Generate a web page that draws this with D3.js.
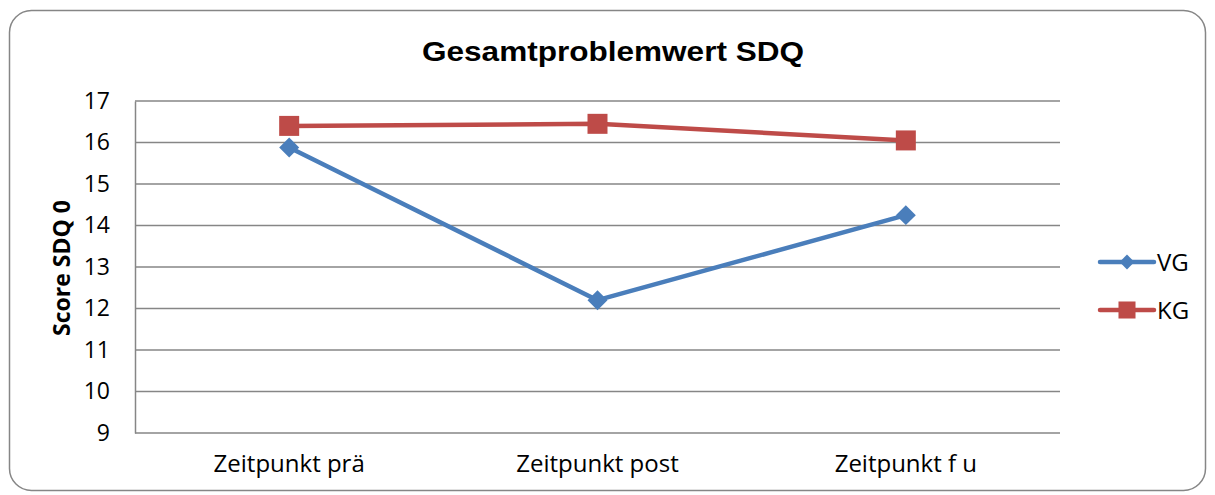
<!DOCTYPE html>
<html>
<head>
<meta charset="utf-8">
<script src="https://cdn.jsdelivr.net/npm/d3@7"></script>
<style>
  body { margin: 0; background: #fff; }
  text { font-family: "Open Sans", Lato, sans-serif; fill: #000; }
</style>
</head>
<body>
<div id="chart"></div>
<script>
// values
var categories = ["Zeitpunkt prä", "Zeitpunkt post", "Zeitpunkt f u"];
var vgValues = [15.88, 12.2, 14.25];
var kgValues = [16.4, 16.45, 16.05];
var seriesNames = ["VG", "KG"];
var yTicks = [9, 10, 11, 12, 13, 14, 15, 16, 17];

var width = 1215, height = 495;
var plot = {left: 135, right: 1060, top: 101, bottom: 433};
var colors = {VG: "#4a7ebb", KG: "#be4b48"};

var svg = d3.select("#chart").append("svg")
    .attr("width", width)
    .attr("height", height);

// outer frame
svg.append("rect")
    .attr("x", 9.5).attr("y", 10.5)
    .attr("width", 1196).attr("height", 480)
    .attr("rx", 22).attr("ry", 22)
    .style("fill", "#fff")
    .style("stroke", "#868686")
    .style("stroke-width", 1.5);

var x = d3.scaleBand().domain(categories).range([plot.left, plot.right]);
var y = d3.scaleLinear().domain([9, 17]).range([plot.bottom, plot.top]);

// gridlines
svg.append("g").selectAll("line")
    .data(yTicks)
    .enter().append("line")
    .attr("x1", plot.left).attr("x2", plot.right)
    .attr("y1", function(d) { return y(d); })
    .attr("y2", function(d) { return y(d); })
    .style("stroke", "#868686")
    .style("stroke-width", 1.5);

// y axis
var yAxis = svg.append("g")
    .attr("transform", "translate(" + plot.left + ",0)")
    .call(d3.axisLeft(y).tickValues(yTicks).tickSize(0).tickPadding(25));
yAxis.select(".domain").style("stroke", "#868686").style("stroke-width", 1.5);
yAxis.selectAll("text").style("font-size", "23px").style("font-family", "'Open Sans', sans-serif");

// x axis labels
var xAxis = svg.append("g")
    .attr("transform", "translate(0," + plot.bottom + ")")
    .call(d3.axisBottom(x).tickSize(0).tickPadding(22));
xAxis.select(".domain").remove();
xAxis.selectAll("text").style("font-size", "24px").style("font-family", "'Open Sans', sans-serif");

// title
svg.append("text")
    .attr("x", 613).attr("y", 61)
    .attr("text-anchor", "middle")
    .attr("textLength", 382)
    .attr("lengthAdjust", "spacingAndGlyphs")
    .style("font-family", "'Liberation Sans', Arial, sans-serif")
    .style("font-weight", "bold")
    .style("font-size", "27px")
    .text("Gesamtproblemwert SDQ");

// y axis title
svg.append("text")
    .attr("transform", "translate(70,268) rotate(-90)")
    .attr("text-anchor", "middle")
    .style("font-weight", "bold")
    .style("font-size", "23px")
    .text("Score SDQ 0");

var line = d3.line()
    .x(function(d, i) { return x(categories[i]) + x.bandwidth() / 2; })
    .y(function(d) { return y(d); });

var series = [
  {name: "VG", values: vgValues, rot: 45, size: 200, legendSize: 110},
  {name: "KG", values: kgValues, rot: 0, size: 400, legendSize: 290}
];

series.forEach(function(s) {
  svg.append("path")
      .datum(s.values)
      .attr("d", line)
      .style("fill", "none")
      .style("stroke", colors[s.name])
      .style("stroke-width", 4.5)
      .style("stroke-linejoin", "round");

  svg.append("g").selectAll("path")
      .data(s.values)
      .enter().append("path")
      .attr("d", d3.symbol().type(d3.symbolSquare).size(s.size))
      .attr("transform", function(d, i) {
        return "translate(" + (x(categories[i]) + x.bandwidth() / 2) + "," + y(d) + ") rotate(" + s.rot + ")";
      })
      .style("fill", colors[s.name]);
});

// legend
var legend = svg.append("g").selectAll("g")
    .data(series)
    .enter().append("g")
    .attr("transform", function(d, i) { return "translate(1100," + (262 + i * 48) + ")"; });

legend.append("line")
    .attr("x1", 0).attr("x2", 54)
    .style("stroke", function(d) { return colors[d.name]; })
    .style("stroke-width", 4.5)
    .style("stroke-linecap", "round");

legend.append("path")
    .attr("transform", function(d) { return "translate(27,0) rotate(" + d.rot + ")"; })
    .attr("d", function(d) { return d3.symbol().type(d3.symbolSquare).size(d.legendSize)(); })
    .style("fill", function(d) { return colors[d.name]; });

legend.append("text")
    .attr("x", 57).attr("y", 9)
    .style("font-size", "24px")
    .text(function(d) { return d.name; });
</script>
</body>
</html>
